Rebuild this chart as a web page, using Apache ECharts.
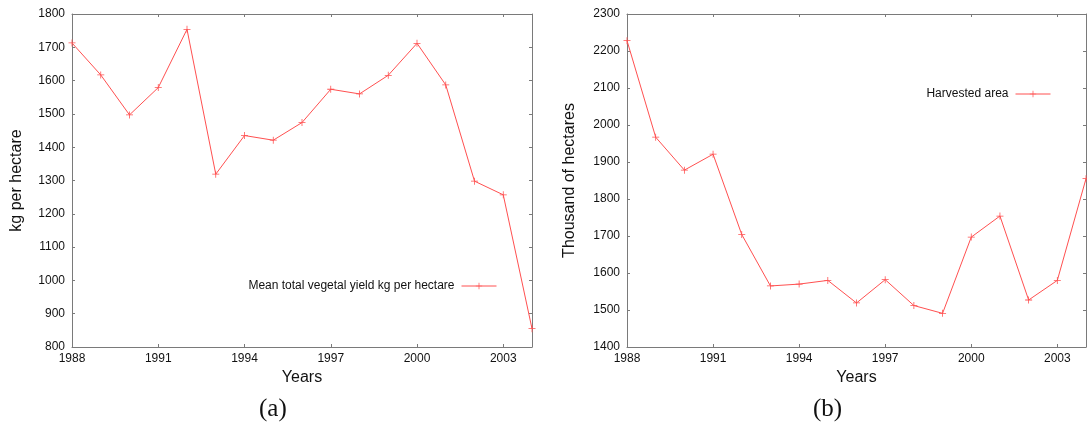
<!DOCTYPE html>
<html>
<head>
<meta charset="utf-8">
<script src="https://cdn.jsdelivr.net/npm/echarts@6/dist/echarts.min.js"></script>
<style>
  html, body { margin: 0; padding: 0; background: #fff; }
  #chart { width: 1087px; height: 427px; }
</style>
</head>
<body>
<div id="chart"></div>
<script>
// Years on the horizontal axes (shared by both panels)
const years = ['1988','1989','1990','1991','1992','1993','1994','1995','1996',
               '1997','1998','1999','2000','2001','2002','2003','2004'];

// Panel (a): mean total vegetal yield, kg per hectare
const yieldValues = [1713, 1617, 1497, 1579, 1754, 1319, 1435, 1421, 1474,
                     1574, 1560, 1616, 1712, 1587, 1298, 1257, 855];

// Panel (b): harvested area, thousand of hectares
const areaValues = [2228, 1967, 1878, 1921, 1704, 1565, 1570, 1580, 1519,
                    1582, 1512, 1491, 1697, 1754, 1527, 1580, 1855];

const yieldName = 'Mean total vegetal yield kg per hectare';
const areaName = 'Harvested area';
const yieldRange = [800, 1800];
const areaRange = [1400, 2300];

const FONT = '"Liberation Sans", Arial, sans-serif';
const FRAME = '#7a7a7a';
const RED = '#ff5050';
// small filled "+" marker
const PLUS = 'path://M4,0 H5 V4 H9 V5 H5 V9 H4 V5 H0 V4 H4 Z';

const grids = [
  { left: 72, top: 14, width: 460, height: 333 },
  { left: 627, top: 14, width: 459, height: 333 }
];

function xAxisPair(gridIndex) {
  const common = {
    type: 'category', data: years, boundaryGap: false, gridIndex: gridIndex,
    axisLine: { show: true, lineStyle: { color: FRAME, width: 1 } },
    axisTick: { show: true, inside: true, length: 3, interval: 2, lineStyle: { color: FRAME } },
    splitLine: { show: false }
  };
  return [
    Object.assign({}, common, {
      position: 'bottom',
      name: 'Years', nameLocation: 'middle', nameGap: 22,
      nameTextStyle: { fontFamily: FONT, fontSize: 16, color: '#111' },
      axisLabel: { interval: 2, margin: 6, fontFamily: FONT, fontSize: 12, color: '#111' }
    }),
    Object.assign({}, common, { position: 'top', axisLabel: { show: false } })
  ];
}

function yAxisPair(gridIndex, range, title, gap) {
  const common = {
    type: 'value', gridIndex: gridIndex, min: range[0], max: range[1], interval: 100,
    axisLine: { show: true, lineStyle: { color: FRAME, width: 1 } },
    axisTick: { show: true, inside: true, length: 3, lineStyle: { color: FRAME } },
    splitLine: { show: false }
  };
  return [
    Object.assign({}, common, {
      position: 'left',
      name: title, nameLocation: 'middle', nameGap: gap,
      nameTextStyle: { fontFamily: FONT, fontSize: 16, color: '#111' },
      axisLabel: { margin: 7, fontFamily: FONT, fontSize: 12, color: '#111',
                   formatter: function (v) { return String(v); } }
    }),
    Object.assign({}, common, { position: 'right', axisLabel: { show: false } })
  ];
}

function lineSeries(name, values, axisIndex) {
  return {
    name: name, type: 'line', data: values,
    xAxisIndex: axisIndex, yAxisIndex: axisIndex,
    symbol: PLUS, symbolSize: 7, showSymbol: true,
    lineStyle: { color: RED, width: 1 },
    itemStyle: { color: RED },
    animation: false
  };
}

const legendBase = {
  align: 'right', padding: 0,
  itemWidth: 35, itemHeight: 8,
  lineStyle: { width: 1 },
  textStyle: { fontFamily: FONT, fontSize: 12, color: '#111', padding: [0, 2, 0, 0] }
};

const chart = echarts.init(document.getElementById('chart'), null, { renderer: 'canvas' });
chart.setOption({
  backgroundColor: '#ffffff',
  animation: false,
  grid: grids,
  xAxis: [].concat(xAxisPair(0), xAxisPair(1)),
  yAxis: [].concat(
    yAxisPair(0, yieldRange, 'kg per hectare', 47),
    yAxisPair(1, areaRange, 'Thousand of hectares', 49)
  ),
  legend: [
    Object.assign({ data: [yieldName], right: 590, top: 280 }, legendBase),
    Object.assign({ data: [areaName], right: 36, top: 88 }, legendBase)
  ],
  series: [
    lineSeries(yieldName, yieldValues, 0),
    // second panel uses the third x/y axes (bottom and left of grid 1)
    lineSeries(areaName, areaValues, 2)
  ],
  graphic: [
    { type: 'text', left: 259, top: 397,
      style: { text: '(a)', font: '25px "Liberation Serif", "Times New Roman", serif', fill: '#111' } },
    { type: 'text', left: 813, top: 397,
      style: { text: '(b)', font: '25px "Liberation Serif", "Times New Roman", serif', fill: '#111' } }
  ]
});
</script>
</body>
</html>
